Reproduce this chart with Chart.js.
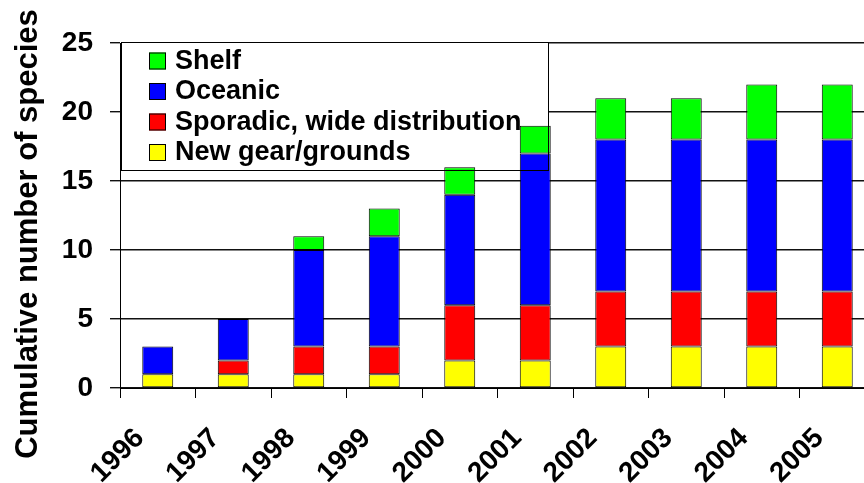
<!DOCTYPE html>
<html>
<head>
<meta charset="utf-8">
<script src="https://cdn.jsdelivr.net/npm/chart.js@4/dist/chart.umd.min.js"></script>
<style>
  html, body { margin: 0; padding: 0; background: #fff; overflow: hidden; }
  #wrap { position: relative; width: 880px; height: 483px; }
</style>
</head>
<body>
<div id="wrap"><canvas id="c" width="880" height="483"></canvas></div>
<script>
// Cumulative species counts per year, split by distribution group
const years = ['1996', '1997', '1998', '1999', '2000', '2001', '2002', '2003', '2004', '2005'];
const newGear = [1, 1, 1, 1, 2, 2, 3, 3, 3, 3];
const sporadic = [0, 1, 2, 2, 4, 4, 4, 4, 4, 4];
const oceanic = [2, 3, 7, 8, 8, 11, 11, 11, 11, 11];
const shelf = [0, 0, 1, 2, 2, 2, 3, 3, 4, 4];
const yTicks = [0, 5, 10, 15, 20, 25];
const yTitle = 'Cumulative number of species';

const FONT = "'Liberation Sans', Arial, sans-serif";

function series(label, data, color) {
  return {
    label, data,
    backgroundColor: color,
    borderColor: '#000',
    borderWidth: 1,
    borderSkipped: false,
    categoryPercentage: 1.0,
    barPercentage: 0.41
  };
}

// Legend box: white fill goes under the bars, frame and text go over them
const boxedLegend = {
  id: 'boxedLegend',
  box: { x: 121, y: 42, w: 427, h: 128 },
  beforeDatasetsDraw(chart) {
    const { ctx } = chart; const b = this.box;
    ctx.save();
    ctx.fillStyle = '#fff';
    ctx.fillRect(b.x, b.y, b.w, b.h);
    ctx.restore();
  },
  afterDatasetsDraw(chart) {
    const { ctx } = chart; const b = this.box;
    ctx.save();
    ctx.strokeStyle = '#000';
    ctx.lineWidth = 1;
    ctx.strokeRect(b.x + 0.5, b.y + 0.5, b.w, b.h);
    const items = chart.data.datasets.slice().reverse();
    ctx.font = 'bold 27px ' + FONT;
    ctx.textBaseline = 'middle';
    ctx.textAlign = 'left';
    items.forEach((ds, i) => {
      const cy = b.y + 18.5 + i * 30.5;
      ctx.fillStyle = ds.backgroundColor;
      ctx.fillRect(149, cy - 8, 17, 17);
      ctx.strokeStyle = '#000';
      ctx.strokeRect(149.5, cy - 7.5, 16, 16);
      ctx.fillStyle = '#000';
      ctx.fillText(ds.label, 175, cy + 1);
    });
    ctx.restore();
  }
};

// Vertical axis title, drawn beside the tick labels
const axisTitle = {
  id: 'axisTitle',
  afterDraw(chart) {
    const { ctx } = chart;
    ctx.save();
    ctx.translate(28, 234);
    ctx.rotate(-Math.PI / 2);
    ctx.font = 'bold 31px ' + FONT;
    ctx.fillStyle = '#000';
    ctx.textAlign = 'center';
    ctx.textBaseline = 'middle';
    ctx.fillText(yTitle, 0, 0);
    ctx.restore();
  }
};

new Chart(document.getElementById('c'), {
  type: 'bar',
  data: {
    labels: years,
    datasets: [
      series('New gear/grounds', newGear, '#ffff00'),
      series('Sporadic, wide distribution', sporadic, '#ff0000'),
      series('Oceanic', oceanic, '#0000ff'),
      series('Shelf', shelf, '#00ff00')
    ]
  },
  options: {
    responsive: false,
    animation: false,
    events: [],
    layout: { padding: { top: 43, right: 5, bottom: 0, left: 0 } },
    plugins: { legend: { display: false }, tooltip: { enabled: false }, title: { display: false } },
    scales: {
      x: {
        stacked: true,
        offset: true,
        grid: { display: true, drawOnChartArea: false, drawTicks: true, tickLength: 10, color: '#000', lineWidth: 1, offset: true },
        border: { display: true, color: '#000', width: 1 },
        ticks: {
          color: '#000',
          font: { family: FONT, size: 28, weight: 'bold' },
          minRotation: 45, maxRotation: 45,
          padding: 24,
          labelOffset: -18,
          autoSkip: false
        },
        afterFit(scale) {
          scale.height = 95;
          scale.paddingLeft = 0;
          scale.paddingRight = 0;
        }
      },
      y: {
        stacked: true,
        min: 0, max: 25,
        afterBuildTicks(scale) { scale.ticks = yTicks.map(v => ({ value: v })); },
        grid: { drawOnChartArea: true, drawTicks: true, tickLength: 10, color: '#111', lineWidth: 1.4 },
        border: { display: true, color: '#000', width: 1 },
        ticks: {
          color: '#000',
          font: { family: FONT, size: 28, weight: 'bold' },
          padding: 17
        },
        afterFit(scale) { scale.width = 120; }
      }
    }
  },
  plugins: [boxedLegend, axisTitle]
});
</script>
</body>
</html>
